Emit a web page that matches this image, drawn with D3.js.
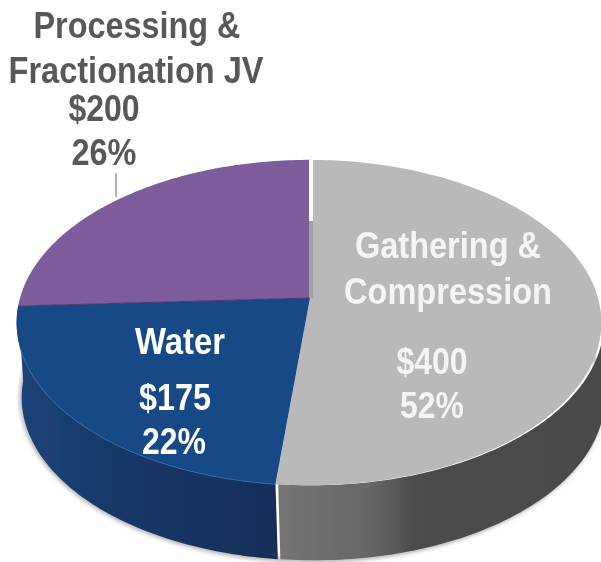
<!DOCTYPE html>
<html>
<head>
<meta charset="utf-8">
<script src="https://cdn.jsdelivr.net/npm/d3@7"></script>
<style>
html, body { margin: 0; padding: 0; background: #fff; }
svg { display: block; }
text { font-family: "Liberation Sans", Arial, sans-serif; font-weight: bold; text-anchor: middle; }
</style>
</head>
<body>
<div id="chart"></div>
<script>
const categories = ["Gathering & Compression", "Water", "Processing & Fractionation JV"];
const amounts = [400, 175, 200];
const amountLabels = ["$400", "$175", "$200"];
const shareLabels = ["52%", "22%", "26%"];
const topColors = ["#b9b9b9", "#174a85", "#7b5c9b"];
const sideColors = ["url(#graySide)", "url(#blueSide)", "#15305c"];

const width = 601, height = 562;

const svg = d3.select("#chart").append("svg")
	.attr("width", width)
	.attr("height", height);

const defs = svg.append("defs");

function gradient(id, stops) {
	const g = defs.append("linearGradient").attr("id", id);
	stops.forEach(s => g.append("stop").attr("offset", s[0]).attr("stop-color", s[1]));
}
gradient("graySide", [["0%", "#757575"], ["28%", "#666666"], ["42%", "#4b4b4b"], ["100%", "#4a4a4a"]]);
gradient("blueSide", [["0%", "#1b4378"], ["45%", "#173767"], ["100%", "#142e58"]]);

defs.append("filter").attr("id", "soft")
	.append("feGaussianBlur").attr("stdDeviation", 2);
// the reference is a scaled up bitmap, edges are a little soft
defs.append("filter").attr("id", "scan")
	.append("feGaussianBlur").attr("stdDeviation", 0.6);

const root = svg.append("g").attr("filter", "url(#scan)");

// the pie is a flat disc seen in perspective, so the hub sits above the ellipse centre
const topDisc = {cx: 310, cy: 298, a: 290, b: 159, k: 0.151};
const grayDisc = {cx: 310, cy: 298, a: 288, b: 159, k: 0.151};
const bottomDisc = {cx: 312, cy: 373, a: 287, b: 159, k: 0.151};

function project(disc, angle, r = 1) {
	const x = r * Math.sin(angle), y = -r * Math.cos(angle), w = 1 - disc.k * y;
	return [disc.cx + disc.a * x / w, disc.cy + disc.b * y / w];
}

const arcs = d3.pie().sort(null).value(d => d)(amounts);
const line = d3.line();
const step = Math.PI / 180;

function rim(disc, start, end) {
	return d3.range(start, end, step).concat(end).map(a => project(disc, a));
}

const discs = [grayDisc, topDisc, topDisc];
// only the gray wall stands apart from the blue one
const wallOffsets = [[2.5, 0], [0, 0], [0, 0]];

root.append("path")
	.attr("d", line(rim(bottomDisc, arcs[0].startAngle + 0.5, arcs[1].endAngle + 0.1)))
	.attr("fill", "none")
	.attr("stroke", "#8c8c8c")
	.attr("stroke-width", 3)
	.attr("filter", "url(#soft)");

// side walls only exist on the front half, start below the widest point of the rim
root.selectAll("path.wall")
	.data(arcs.filter(d => d.index < 2))
	.join("path")
	.attr("class", "wall")
	.attr("transform", d => `translate(${wallOffsets[d.index]})`)
	.attr("d", d => {
		const start = Math.max(d.startAngle, Math.PI / 2 + 0.1);
		const pts = rim(discs[d.index], start, d.endAngle).concat(rim(bottomDisc, start, d.endAngle).reverse());
		return line(pts) + "Z";
	})
	.attr("fill", d => sideColors[d.index]);

root.selectAll("path.face")
	.data(arcs)
	.join("path")
	.attr("class", "face")
	.attr("d", d => {
		const pts = [project(topDisc, 0, 0)].concat(rim(discs[d.index], d.startAngle, d.endAngle));
		return line(pts) + "Z";
	})
	.attr("fill", d => topColors[d.index]);

// lighter lip along the front of the blue slice
root.append("path")
	.attr("d", line(rim(topDisc, arcs[1].startAngle, arcs[1].endAngle - 0.25)))
	.attr("fill", "none")
	.attr("stroke", "#2a69a8")
	.attr("stroke-width", 1);

// dark seam between blue and purple
root.append("path")
	.attr("d", line([project(topDisc, 0, 0), project(topDisc, arcs[1].endAngle)]))
	.attr("stroke", "#4a3a6a")
	.attr("stroke-width", 1);

// white gap then a darker strip between purple and gray at the back
root.append("path")
	.attr("d", line([[311, 160], [311, 221]]))
	.attr("stroke", "#ffffff")
	.attr("stroke-width", 4);
root.append("path")
	.attr("d", line([[311, 221], [311, 298]]))
	.attr("stroke", "#a2a2a2")
	.attr("stroke-width", 4);

// leader line from the outside label
root.append("path")
	.attr("d", line([[116, 173], [116, 197]]))
	.attr("stroke", "#7f7f7f")
	.attr("stroke-width", 1.2);

const labelRows = [
	{text: "Processing &", x: 137, y: 38, w: 207, fill: "#595959"},
	{text: "Fractionation JV", x: 136, y: 83, w: 255, fill: "#595959"},
	{text: amountLabels[2], x: 104, y: 121, w: 71, fill: "#595959"},
	{text: shareLabels[2], x: 104, y: 165, w: 65, fill: "#595959"},
	{text: "Gathering &", x: 448, y: 258, w: 186, fill: "#f4f4f4"},
	{text: "Compression", x: 448, y: 304, w: 208, fill: "#f4f4f4"},
	{text: amountLabels[0], x: 432, y: 374, w: 71, fill: "#f4f4f4"},
	{text: shareLabels[0], x: 432, y: 418, w: 64, fill: "#f4f4f4"},
	{text: categories[1], x: 180, y: 354, w: 90, fill: "#ffffff"},
	{text: amountLabels[1], x: 175, y: 410, w: 72, fill: "#ffffff"},
	{text: shareLabels[1], x: 174, y: 454, w: 64, fill: "#ffffff"}
];

root.selectAll("text.label")
	.data(labelRows)
	.join("text")
	.attr("class", "label")
	.attr("x", d => d.x)
	.attr("y", d => d.y)
	.attr("fill", d => d.fill)
	.attr("font-size", 36)
	.attr("textLength", d => d.w)
	.attr("lengthAdjust", "spacingAndGlyphs")
	.text(d => d.text);
</script>
</body>
</html>
